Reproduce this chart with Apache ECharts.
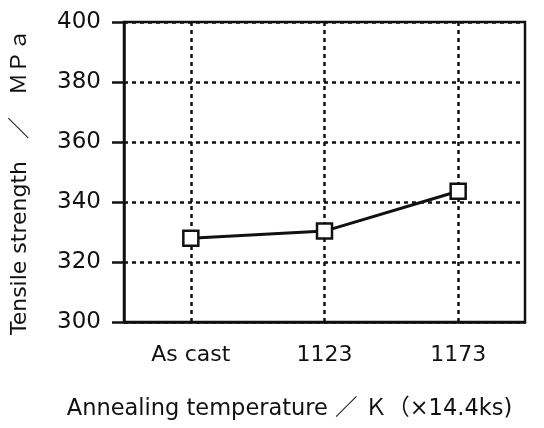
<!DOCTYPE html>
<html>
<head>
  <meta charset="utf-8"/>
  <title>Tensile strength</title>
  <script src="https://cdn.jsdelivr.net/npm/echarts@6/dist/echarts.min.js"></script>
  <style>
    html, body { margin: 0; padding: 0; background: #fff; }
    #chart { width: 544px; height: 428px; }
  </style>
</head>
<body>
<div id="chart"></div>
<script>
  // data
  var categories = ['As cast', '1123', '1173'];
  var strength = [327.9, 330.3, 343.6];

  var font = '"DejaVu Sans", "Noto Sans CJK JP", sans-serif';
  var dashed = { color: '#111', width: 2.5, type: [4, 4] };

  var myChart = echarts.init(document.getElementById('chart'));
  var option = {
    backgroundColor: '#fff',
    animation: false,
    grid: {
      left: 124, right: 19, top: 22, bottom: 106,
      show: true, borderColor: '#111', borderWidth: 2.5
    },
    xAxis: {
      type: 'category',
      data: categories,
      boundaryGap: true,
      name: 'Annealing temperature ／ Ｋ（×14.4ks)',
      nameLocation: 'middle',
      nameGap: 76,
      nameTextStyle: { color: '#111', fontSize: 22.5, fontFamily: font, padding: [0, 70, 0, 0] },
      axisLine: { lineStyle: { color: '#111', width: 2.5 } },
      axisTick: { alignWithLabel: true, length: 12, lineStyle: { color: '#111', width: 2.5 } },
      axisLabel: { color: '#111', fontSize: 22, fontFamily: font, margin: 22 },
      splitLine: { show: true, alignWithLabel: true, lineStyle: dashed }
    },
    yAxis: {
      type: 'value',
      min: 300, max: 400, interval: 20,
      name: 'Tensile strength　／　ＭＰａ',
      nameLocation: 'middle',
      nameGap: 93,
      nameTextStyle: { color: '#111', fontSize: 22, fontFamily: font, padding: [0, 20, 0, 0] },
      axisLine: { show: true, lineStyle: { color: '#111', width: 2.5 } },
      axisTick: { show: true, length: 12, lineStyle: { color: '#111', width: 2.5 } },
      axisLabel: { color: '#111', fontSize: 23, fontFamily: font, margin: 23 },
      splitLine: { show: true, lineStyle: dashed }
    },
    series: [{
      type: 'line',
      data: strength,
      symbol: 'rect',
      symbolSize: 15,
      itemStyle: { color: '#fff', borderColor: '#111', borderWidth: 2.5 },
      lineStyle: { color: '#111', width: 3 },
      z: 5
    }]
  };
  myChart.setOption(option);
</script>
</body>
</html>
